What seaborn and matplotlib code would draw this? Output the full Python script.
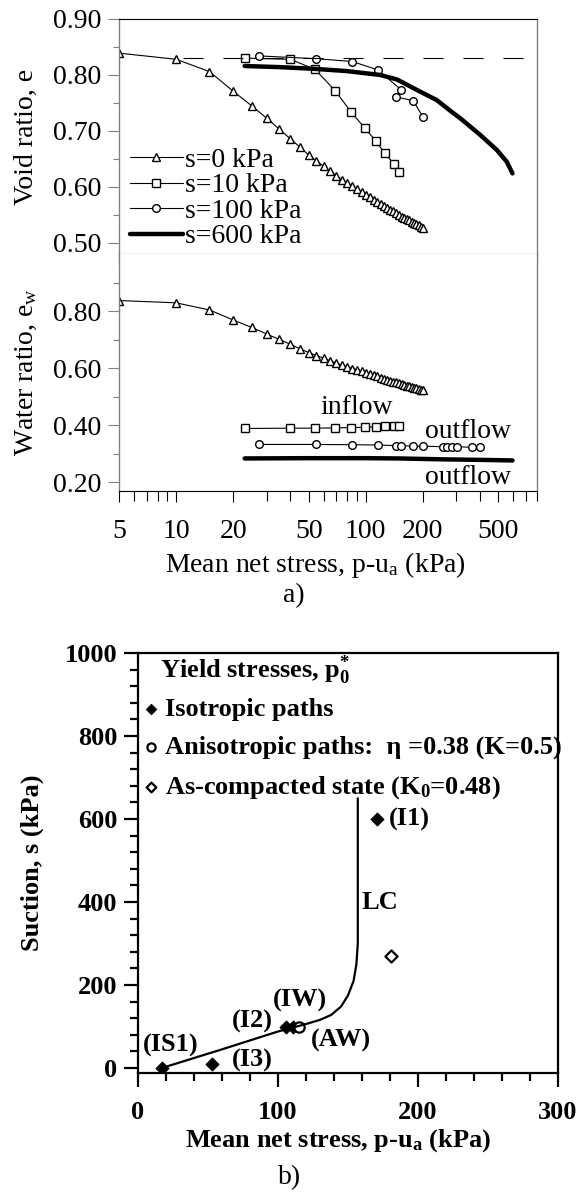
import matplotlib
matplotlib.use("Agg")
import matplotlib.pyplot as plt
import seaborn as sns
from matplotlib.ticker import (FixedLocator, NullFormatter, FormatStrFormatter,
                               MultipleLocator, FuncFormatter)

# ---------------- panel a: compression curves ----------------
# s = 0 kPa (saturated), loading steps every 5 kPa
p_s0 = [5, 10, 15, 20, 25, 30, 35, 40, 45, 50,
        55, 60, 65, 70, 75, 80, 85, 90, 95, 100,
        105, 110, 115, 120, 125, 130, 135, 140, 145, 150,
        155, 160, 165, 170, 175, 180, 185, 190, 195, 200]
e_s0 = [0.839, 0.828, 0.806, 0.771, 0.745, 0.723, 0.703, 0.686, 0.671, 0.657,
        0.646, 0.637, 0.628, 0.620, 0.613, 0.607, 0.601, 0.596, 0.591, 0.586,
        0.581, 0.577, 0.573, 0.569, 0.566, 0.562, 0.559, 0.556, 0.553, 0.550,
        0.547, 0.545, 0.542, 0.540, 0.537, 0.535, 0.533, 0.531, 0.529, 0.527]
ew_s0 = [0.837, 0.829, 0.804, 0.769, 0.743, 0.720, 0.701, 0.684, 0.668, 0.655,
         0.644, 0.635, 0.626, 0.618, 0.611, 0.605, 0.599, 0.594, 0.589, 0.584,
         0.579, 0.575, 0.571, 0.567, 0.563, 0.560, 0.556, 0.553, 0.550, 0.547,
         0.544, 0.541, 0.539, 0.536, 0.534, 0.532, 0.530, 0.528, 0.525, 0.523]

# s = 10 kPa
p_s10 = [23, 40, 54, 69, 84, 99, 113, 126, 141, 150]
e_s10 = [0.830, 0.828, 0.810, 0.772, 0.733, 0.705, 0.682, 0.660, 0.641, 0.627]
ew_s10 = [0.389, 0.390, 0.390, 0.391, 0.392, 0.393, 0.395, 0.396, 0.397, 0.398]

# s = 100 kPa
p_s100 = [27.5, 55, 85, 116, 153, 144, 178, 201]
e_s100 = [0.834, 0.829, 0.824, 0.809, 0.774, 0.761, 0.754, 0.724]
p_s100_w = [27.5, 55, 85, 116, 144, 153, 178, 201, 257, 267, 284, 302, 362, 401]
ew_s100 = [0.333, 0.333, 0.332, 0.331, 0.329, 0.329, 0.327, 0.327,
           0.325, 0.325, 0.325, 0.325, 0.323, 0.323]

# s = 600 kPa (continuous record)
p_s600 = [23, 35, 53, 79, 119, 146, 194, 237, 284, 314, 401, 491, 554, 594]
e_s600 = [0.816, 0.814, 0.811, 0.807, 0.800, 0.792, 0.770, 0.755, 0.734, 0.723,
          0.693, 0.666, 0.645, 0.624]
p_s600_w = [23, 50, 100, 150, 250, 400, 594]
ew_s600 = [0.284, 0.285, 0.285, 0.284, 0.281, 0.279, 0.277]

# as-compacted void ratio reference
e_ref = 0.83
p_ref = [10.9, 676]

series_labels = ["s=0 kPa", "s=10 kPa", "s=100 kPa", "s=600 kPa"]
x_ticks_a = [5, 10, 20, 50, 100, 200, 500]
x_minor_a = [6, 7, 8, 9, 30, 40, 60, 70, 80, 90, 300, 400, 600, 700, 800]

# ---------------- panel b: yield stresses ----------------
iso_p = [17, 53, 106, 111, 171]
iso_s = [0, 10, 100, 100, 600]
aniso_p = [115]
aniso_s = [100]
comp_p = [181]
comp_s = [270]
lc_p = [17, 60, 100, 110, 120, 130, 138, 145, 150, 154, 156, 157, 157]
lc_s = [0, 45, 88, 97, 106, 116, 128, 148, 175, 210, 250, 300, 650]

point_names = ["(IS1)", "(I3)", "(I2)", "(IW)", "(AW)", "(I1)", "LC"]
name_p = [23.6, 81.4, 82, 116, 144.6, 194, 172.6]
name_s = [55, 19, 111, 164, 67, 598, 400]

# ---------------- style ----------------
sns.set_theme(style="ticks")
plt.rcParams.update({
    "font.family": ["Liberation Serif", "DejaVu Serif"],
    "mathtext.fontset": "custom",
    "mathtext.rm": "Liberation Serif",
    "mathtext.it": "Liberation Serif:italic",
    "mathtext.bf": "Liberation Serif:bold",
    "axes.facecolor": "white",
    "figure.facecolor": "white",
    "text.color": "black",
    "axes.labelcolor": "black",
    "xtick.color": "black",
    "ytick.color": "black",
})

W, H = 582, 1192
fig = plt.figure(figsize=(W / 100, H / 100), dpi=100)


def rect(l, t, r, b):
    return [l / W, 1 - b / H, (r - l) / W, (b - t) / H]


GREY = "#808080"
FS_A = 20
FS_B = 19

ax1 = fig.add_axes(rect(119, 19, 537, 254))
ax2 = fig.add_axes(rect(119, 254, 537, 491))
ax3 = fig.add_axes(rect(138, 653, 558, 1073))

thin = dict(color="black", linewidth=0.8, markerfacecolor="white",
            markeredgecolor="black", markeredgewidth=1.0, markersize=5.5)

for ax, ys in ((ax1, (e_s0, e_s10, e_s100, e_s600)),
               (ax2, (ew_s0, ew_s10, ew_s100, ew_s600))):
    sns.lineplot(x=p_s0, y=ys[0], marker="^", ax=ax, estimator=None,
                 label=series_labels[0], **thin)
    sns.lineplot(x=p_s10, y=ys[1], marker="s", ax=ax, estimator=None,
                 label=series_labels[1], **thin)
    px100 = p_s100 if ax is ax1 else p_s100_w
    sns.lineplot(x=px100, y=ys[2], marker="o", ax=ax, estimator=None,
                 sort=False, label=series_labels[2], **thin)
    px600 = p_s600 if ax is ax1 else p_s600_w
    sns.lineplot(x=px600, y=ys[3], ax=ax, estimator=None, color="black",
                 linewidth=3.2, label=series_labels[3])

ax1.plot(p_ref, [e_ref, e_ref], color="black", linewidth=0.8,
         dashes=(18, 18))

for ax in (ax1, ax2):
    ax.set_xscale("log")
    ax.set_xlim(5, 800)
    ax.xaxis.set_major_locator(FixedLocator(x_ticks_a))
    ax.xaxis.set_major_formatter(FuncFormatter(lambda v, _: f"{v:g}"))
    ax.xaxis.set_minor_locator(FixedLocator(x_minor_a))
    ax.xaxis.set_minor_formatter(NullFormatter())
    ax.tick_params(axis="x", which="major", direction="out", length=8,
                   width=0.8, top=False, bottom=True, labelsize=FS_A, pad=12)
    ax.tick_params(axis="x", which="minor", direction="out", length=7,
                   width=0.8, top=False, bottom=True)
    ax.tick_params(axis="y", which="major", direction="out", length=8,
                   width=0.8, color=GREY, labelsize=FS_A, pad=5)
    ax.tick_params(axis="y", which="minor", direction="out", length=4.5,
                   width=0.8, color=GREY)
    ax.yaxis.set_major_formatter(FormatStrFormatter("%.2f"))
    for side in ("left", "right"):
        ax.spines[side].set_color(GREY)
        ax.spines[side].set_linewidth(1.0)
    for side in ("top", "bottom"):
        ax.spines[side].set_color("black")
        ax.spines[side].set_linewidth(0.8)

ax1.set_ylim(0.48, 0.90)
ax1.yaxis.set_major_locator(MultipleLocator(0.10))
ax1.yaxis.set_minor_locator(MultipleLocator(0.05))
ax1.tick_params(axis="x", which="both", labelbottom=False)
ax1.set_xlabel("")
ax1.set_ylabel("Void ratio, e", fontsize=FS_A)
ax1.yaxis.set_label_coords(-0.191, 0.5)

ax2.set_ylim(0.17, 1.0)
ax2.yaxis.set_major_locator(FixedLocator([0.2, 0.4, 0.6, 0.8]))
ax2.yaxis.set_minor_locator(FixedLocator([0.3, 0.5, 0.7, 0.9]))
ax2.spines["top"].set_visible(False)
ax2.set_ylabel(r"Water ratio, $\mathrm{e_w}$", fontsize=FS_A)
ax2.yaxis.set_label_coords(-0.191, 0.5)
ax2.set_xlabel(r"Mean net stress, p-u$_\mathrm{a}$ (kPa)", fontsize=FS_A)
ax2.xaxis.set_label_coords(0.471, -0.247)
ax2.get_legend().remove()

leg = ax1.legend(loc="lower left", bbox_to_anchor=(0.026, 0.02),
                 frameon=False, fontsize=FS_A, handlelength=1.9,
                 handletextpad=0.1, labelspacing=0.0, borderpad=0,
                 borderaxespad=0)

ax2.text(89, 0.462, "inflow", fontsize=FS_A, ha="center", va="center")
ax2.text(346, 0.378, "outflow", fontsize=FS_A, ha="center", va="center")
ax2.text(346, 0.216, "outflow", fontsize=FS_A, ha="center", va="center")

fig.text(294 / W, 1 - 596 / H, "a)", fontsize=FS_A, ha="center", va="center")

# ---------------- panel b ----------------
sns.lineplot(x=lc_p, y=lc_s, ax=ax3, estimator=None, sort=False,
             color="black", linewidth=1.6)
sns.scatterplot(x=iso_p, y=iso_s, ax=ax3, marker="D", s=45, color="black",
                edgecolor="black", linewidth=0.6, label="Isotropic paths")
sns.scatterplot(x=aniso_p, y=aniso_s, ax=ax3, marker="o", s=55,
                facecolor="white", edgecolor="black", linewidth=1.6,
                label="Anisotropic paths:  η =0.38 (K=0.5)")
sns.scatterplot(x=comp_p, y=comp_s, ax=ax3, marker="D", s=38,
                facecolor="white", edgecolor="black", linewidth=1.6,
                label=r"As-compacted state (K$_\mathbf{0}$=0.48)")

for name, px, py in zip(point_names, name_p, name_s):
    ax3.text(px, py, name, fontsize=FS_B, fontweight="bold",
             ha="center", va="center")

ax3.set_xlim(0, 300)
ax3.set_ylim(-12, 1000)
ax3.xaxis.set_major_locator(MultipleLocator(100))
ax3.xaxis.set_minor_locator(MultipleLocator(20))
ax3.yaxis.set_major_locator(MultipleLocator(200))
ax3.yaxis.set_minor_locator(MultipleLocator(40))
ax3.tick_params(axis="both", which="major", direction="out", length=10,
                width=1.6, labelsize=FS_B)
ax3.tick_params(axis="x", which="major", pad=10)
ax3.tick_params(axis="y", which="major", pad=5)
ax3.tick_params(axis="both", which="minor", direction="out", length=5.5,
                width=1.6)
for lab in ax3.get_xticklabels() + ax3.get_yticklabels():
    lab.set_fontweight("bold")
for side in ax3.spines.values():
    side.set_color("black")
    side.set_linewidth(1.6)

ax3.set_xlabel(r"Mean net stress, p-u$_\mathbf{a}$ (kPa)", fontsize=FS_B,
               fontweight="bold")
ax3.xaxis.set_label_coords(0.476, -0.13)
ax3.set_ylabel("Suction, s (kPa)", fontsize=FS_B, fontweight="bold")
ax3.yaxis.set_label_coords(-0.224, 0.5)

ax3.text(0.052, 0.9595, r"Yield stresses, p$_\mathbf{0}^\mathbf{*}$",
         transform=ax3.transAxes, fontsize=FS_B, fontweight="bold",
         ha="left", va="center")
leg_b = ax3.legend(loc="upper left", bbox_to_anchor=(0.012, 0.895),
                   frameon=False, prop={"size": FS_B, "weight": "bold"},
                   handlelength=0.6, handletextpad=0.25, labelspacing=0.56,
                   borderpad=0, borderaxespad=0, markerscale=0.8)

fig.text(290 / W, 1 - 1178 / H, "b)", fontsize=FS_A, ha="center",
         va="center")

fig.savefig("out.png", dpi=100)
